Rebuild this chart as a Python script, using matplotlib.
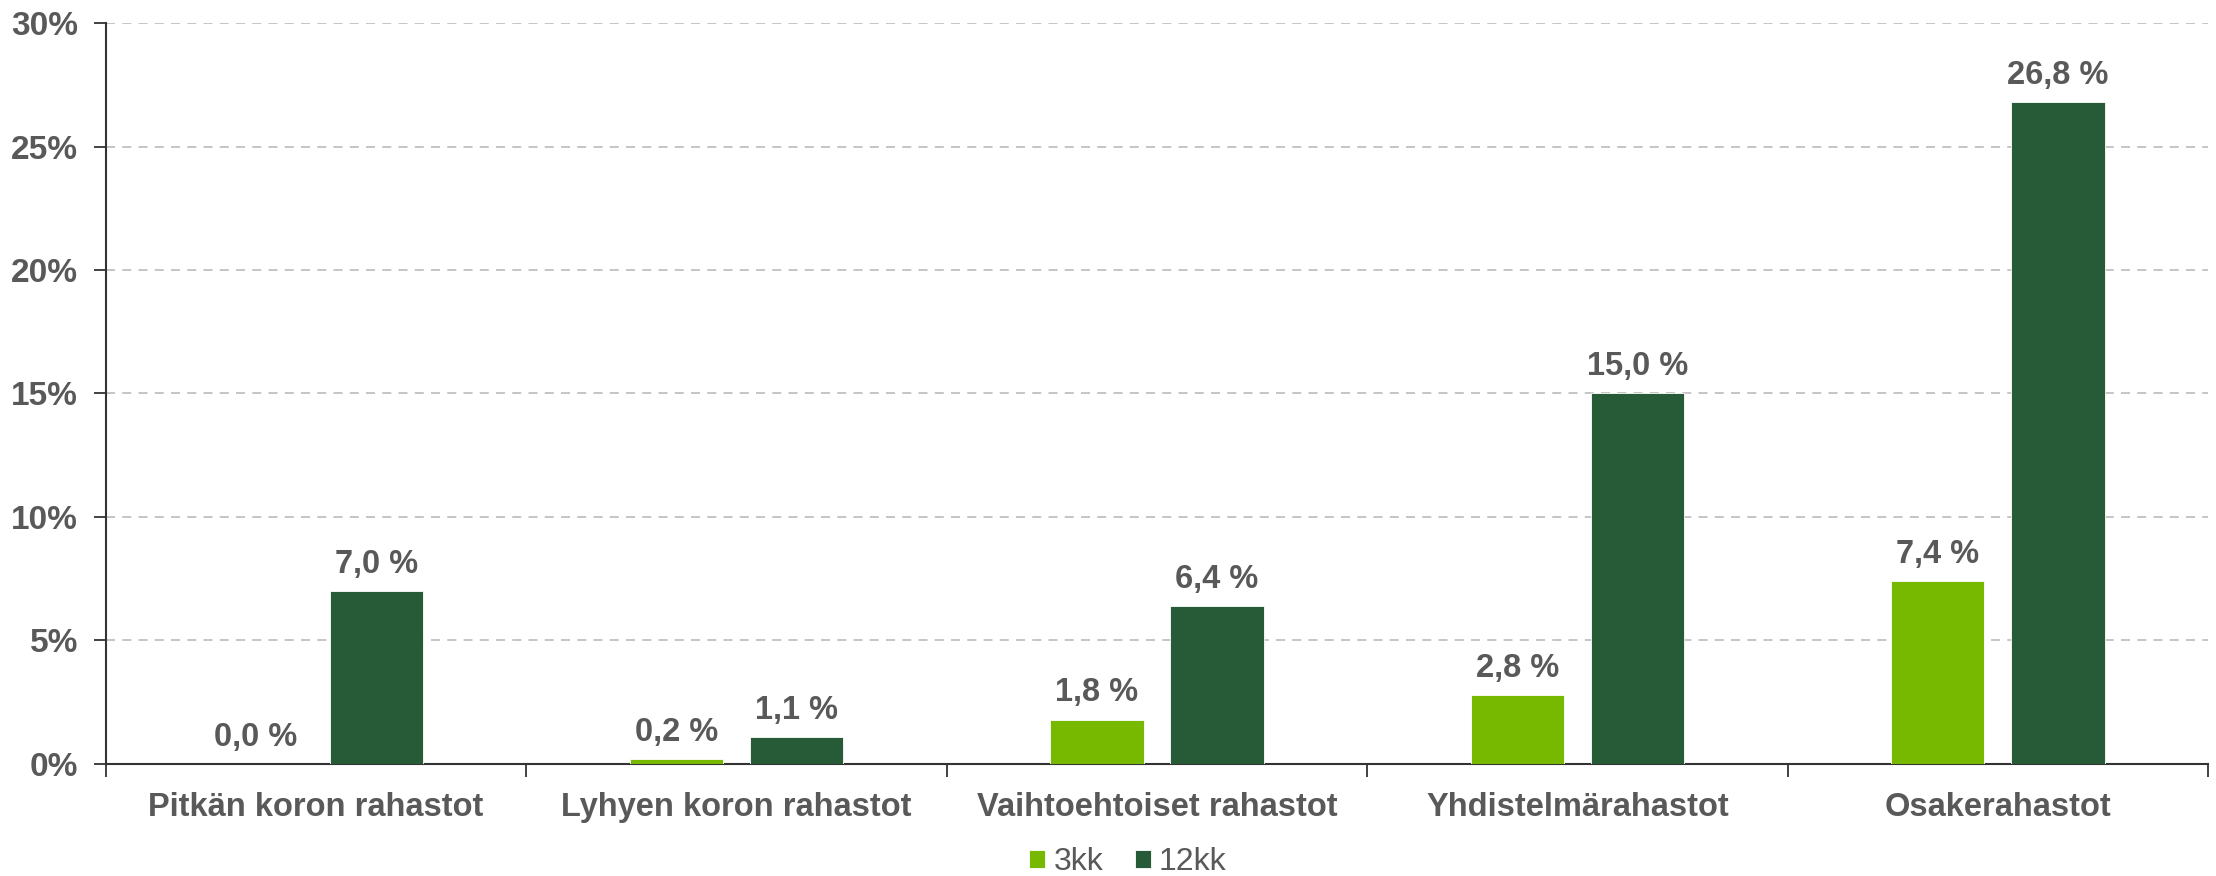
import numpy as np
import matplotlib
matplotlib.use("Agg")
import matplotlib.pyplot as plt
from matplotlib.ticker import FuncFormatter

categories = ["Pitkän koron rahastot", "Lyhyen koron rahastot", "Vaihtoehtoiset rahastot",
              "Yhdistelmärahastot", "Osakerahastot"]
series_names = ["3kk", "12kk"]
values_3kk = [0.0, 0.2, 1.8, 2.8, 7.4]
values_12kk = [7.0, 1.1, 6.4, 15.0, 26.8]
yticks = [0, 5, 10, 15, 20, 25, 30]

light = "#77B800"
dark = "#275A37"
text_col = "#595959"

plt.rcParams["font.family"] = ["Liberation Sans", "DejaVu Sans"]

fig = plt.figure(figsize=(22.16, 8.76), dpi=100)
ax = fig.add_axes([0.0478, 0.1279, 0.9486, 0.8458])

x = np.arange(len(categories))
w = 0.222
off = 0.143

b1 = ax.bar(x - off, values_3kk, w, color=light, edgecolor="white", linewidth=0.6, label=series_names[0], zorder=3)
b2 = ax.bar(x + off, values_12kk, w, color=dark, edgecolor="white", linewidth=0.6, label=series_names[1], zorder=3)

for bars, vals in [(b1, values_3kk), (b2, values_12kk)]:
    for b, v in zip(bars, vals):
        ax.annotate(f"{v:.1f} %".replace(".", ","), (b.get_x() + b.get_width() / 2, v),
                    xytext=(0, 8), textcoords="offset points", ha="center", va="bottom",
                    fontsize=23.5, fontweight="bold", color=text_col)

ax.set_xlim(-0.5, len(categories) - 0.5)
ax.set_ylim(0, 30)
ax.set_yticks(yticks)
ax.yaxis.set_major_formatter(FuncFormatter(lambda v, p: f"{v:.0f}%"))
ax.grid(axis="y", color="#C0C0C0", linestyle=(0, (5, 4)), linewidth=1.3, zorder=0)

ax.set_xticks(x)
ax.set_xticklabels(categories)
ax.set_xticks(np.arange(len(categories) + 1) - 0.5, minor=True)
ax.tick_params(axis="x", which="major", length=0, pad=20)
ax.tick_params(axis="x", which="minor", length=9, width=1.3, color="#333333")
ax.tick_params(axis="y", length=9, width=1.3, color="#333333", pad=11)

for lab in ax.get_xticklabels():
    lab.set_fontsize(23.5)
    lab.set_fontweight("bold")
    lab.set_color(text_col)
for lab in ax.get_yticklabels():
    lab.set_fontsize(24)
    lab.set_fontweight("bold")
    lab.set_color(text_col)

for s in ["top", "right"]:
    ax.spines[s].set_visible(False)
for s in ["left", "bottom"]:
    ax.spines[s].set_color("#333333")
    ax.spines[s].set_linewidth(1.5)

leg = fig.legend(loc="center", bbox_to_anchor=(0.509, 0.016), ncol=2, frameon=False,
                 fontsize=23, handlelength=0.5, handleheight=0.5, handletextpad=0.25, columnspacing=1.0)
for t in leg.get_texts():
    t.set_color(text_col)

fig.savefig("out.png", dpi=100)
